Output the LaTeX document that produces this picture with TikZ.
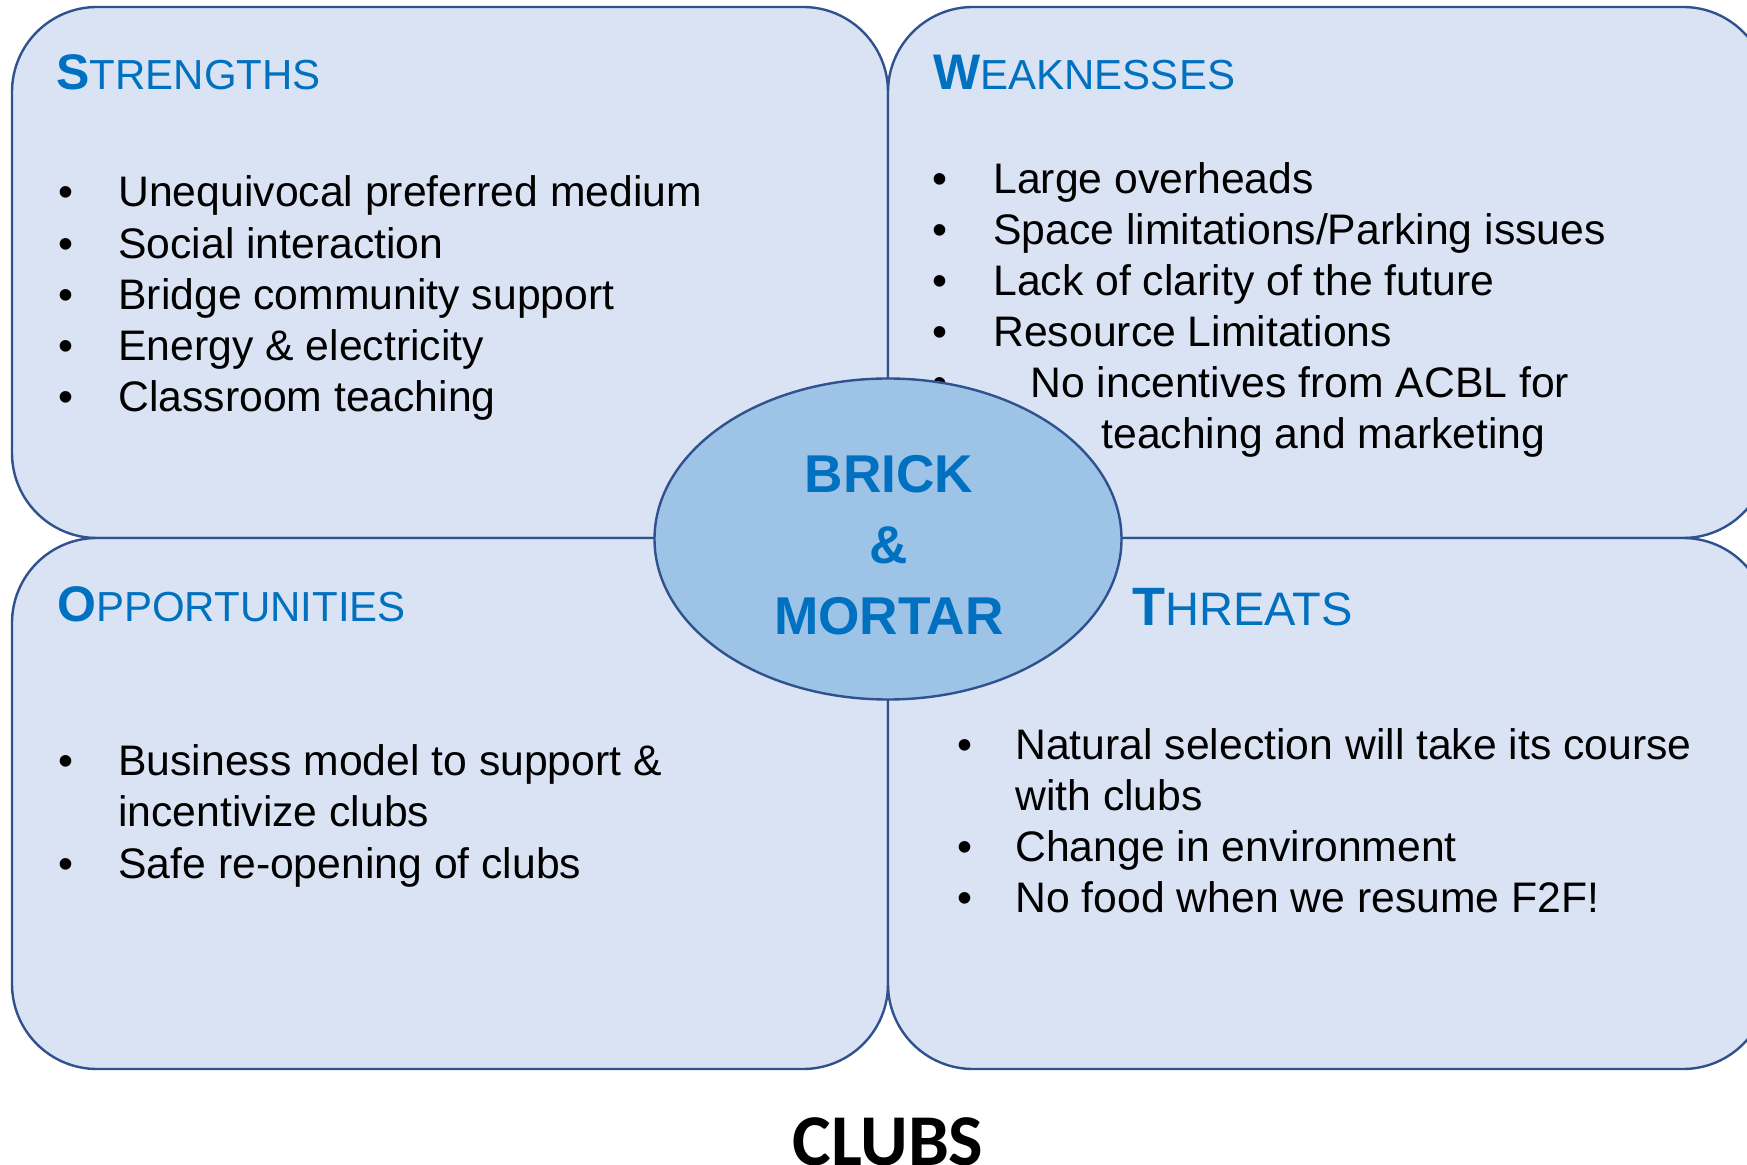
\documentclass[tikz,border=0pt]{standalone}
\usepackage{fontspec}
\setmainfont{Liberation Sans}
\newfontfamily\clubsfont{Carlito}
\usetikzlibrary{shapes.geometric}
\definecolor{boxfill}{HTML}{DAE3F3}
\definecolor{boxline}{HTML}{2F528F}
\definecolor{corefill}{HTML}{9DC3E6}
\definecolor{titleblue}{HTML}{0070C0}
\newcommand{\swottitle}[4]{{\bfseries\fontsize{#3}{#3}\selectfont #1}{\fontsize{#4}{#4}\selectfont #2}}
\tikzset{
    quadbox/.style = {draw = boxline, fill = boxfill, line width = 1.2pt, rounded corners = 42.5pt},
    swothead/.style = {anchor = base west, inner sep = 0, text = titleblue},
    dotmark/.style = {anchor = base west, inner sep = 0, font = \fontsize{21.35}{25}\selectfont},
    itemtext/.style = {anchor = base west, inner sep = 0, font = \fontsize{21.35}{25}\selectfont}
}
\begin{document}
\begin{tikzpicture}[x = 0.5pt, y = -0.5pt]
            \useasboundingbox (0,0) rectangle (1747,1165);
            \clip (0,0) rectangle (1747,1165);
            % four quadrants
            \draw[quadbox] (12,7) rectangle (888,538);
            \draw[quadbox] (888,7) rectangle (1768,538);
            \draw[quadbox] (12,538) rectangle (888,1069);
            \draw[quadbox] (888,538) rectangle (1768,1069);
            % headings
            \node[swothead] (shead) at (56,90) {\swottitle{S}{TRENGTHS}{25}{21}};
            \node[swothead] (whead) at (933,90) {\swottitle{W}{EAKNESSES}{25}{21}};
            \node[swothead] (ohead) at (57,622) {\swottitle{O}{PPORTUNITIES}{25}{21}};
            \node[swothead] (thead) at (1132,626) {\swottitle{T}{HREATS}{27}{23.5}};
            % strengths
            \foreach \txt [count = \i] in {Unequivocal preferred medium, Social interaction, Bridge community support, Energy \& electricity, Classroom teaching} {
                \node[dotmark] (sdot\i) at (58,{207+51.2*(\i-1)}) {\textbullet};
                \node[itemtext] (sitem\i) at (118,{207+51.2*(\i-1)}) {\txt};
            }
            % weaknesses
            \foreach \txt [count = \i] in {Large overheads, Space limitations/Parking issues, Lack of clarity of the future, Resource Limitations} {
                \node[dotmark] (wdot\i) at (932,{194+51*(\i-1)}) {\textbullet};
                \node[itemtext] (witem\i) at (993,{194+51*(\i-1)}) {\txt};
            }
            \node[dotmark] (wdot5) at (932,398) {\textbullet};
            \node[itemtext] (witem5) at (1030,398) {No incentives from ACBL for};
            \node[itemtext] (witem6) at (1101,449) {teaching and marketing};
            % opportunities
            \node[dotmark] (odot1) at (58,776) {\textbullet};
            \node[itemtext] (oitem1) at (118,776) {Business model to support \&};
            \node[itemtext] (oitem2) at (118,827) {incentivize clubs};
            \node[dotmark] (odot2) at (58,878) {\textbullet};
            \node[itemtext] (oitem3) at (118,878) {Safe re-opening of clubs};
            % threats
            \node[dotmark] (tdot1) at (957,760) {\textbullet};
            \node[itemtext] (titem1) at (1015,760) {Natural selection will take its course};
            \node[itemtext] (titem2) at (1015,811) {with clubs};
            \node[dotmark] (tdot2) at (957,862) {\textbullet};
            \node[itemtext] (titem3) at (1015,862) {Change in environment};
            \node[dotmark] (tdot3) at (957,913) {\textbullet};
            \node[itemtext] (titem4) at (1015,913) {No food when we resume F2F!};
            % centre
            \node[ellipse, draw = boxline, fill = corefill, line width = 1.2pt, minimum width = 233.5pt, minimum height = 160.5pt, inner sep = 0] (core) at (888,539) {};
            \node[align = center, text = titleblue, font = \bfseries\fontsize{26.6}{35.5}\selectfont] (corelabel) at (889,545) {BRICK\\\&\\MORTAR};
            \node[anchor = base, inner sep = 0, font = \clubsfont\bfseries\fontsize{36.5}{40}\selectfont] (clubs) at (888,1165) {CLUBS};
\end{tikzpicture}
\end{document}
